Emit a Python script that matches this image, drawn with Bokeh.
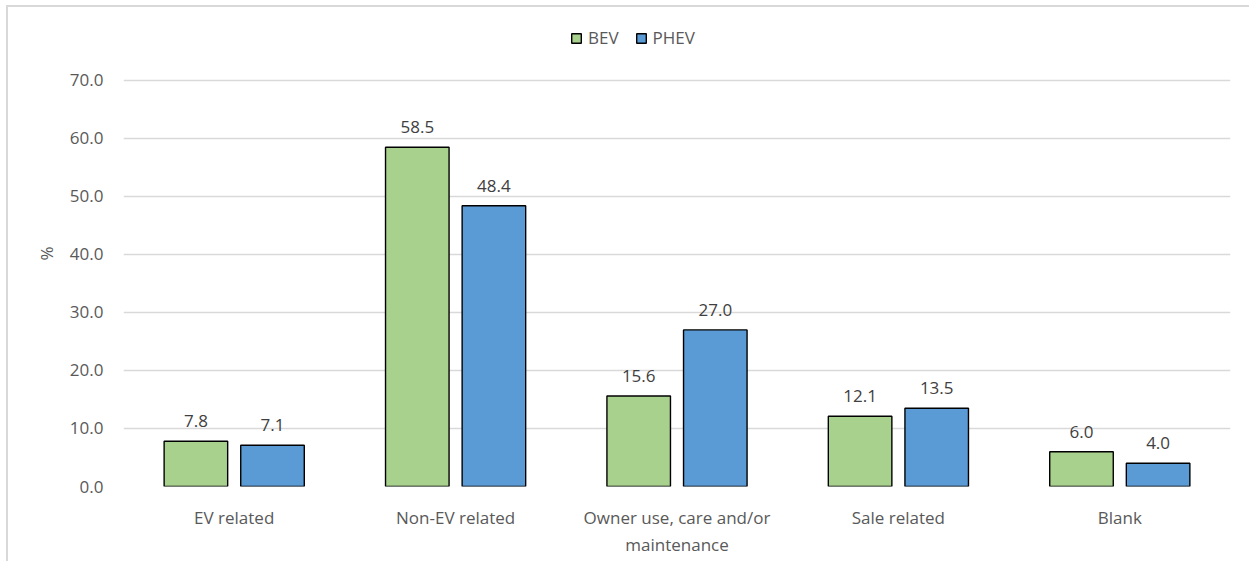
from bokeh.plotting import figure
from bokeh.models import (FactorRange, Range1d, ColumnDataSource, Legend, LegendItem,
                          FixedTicker, CustomJSTickFormatter)
from bokeh.transform import dodge
from bokeh.core.properties import value
from bokeh.embed import file_html
from bokeh.resources import INLINE

# Reasons given, share of respondents (%) by vehicle type
categories = ["EV related", "Non-EV related", "Owner use, care and/or\nmaintenance",
              "Sale related", "Blank"]
bev = [7.8, 58.5, 15.6, 12.1, 6.0]
phev = [7.1, 48.4, 27.0, 13.5, 4.0]
series = ["BEV", "PHEV"]
y_ticks = [0, 10, 20, 30, 40, 50, 60, 70]

FONT = "Open Sans"
FS = "17px"
GREEN = "#A9D18E"
BLUE = "#5B9BD5"
GRID = "#D9D9D9"
TICK_TEXT = "#595959"

src = ColumnDataSource(dict(
    cat=categories,
    bev=bev,
    phev=phev,
    bev_label=[f"{v:.1f}" for v in bev],
    phev_label=[f"{v:.1f}" for v in phev],
))

# headroom above 70 leaves space for the legend inside the plotting area
p = figure(frame_width=1107, frame_height=466, x_range=FactorRange(*categories),
           y_range=Range1d(0, 80.34), output_backend="svg", toolbar_location=None,
           min_border_left=115, min_border_right=19, min_border_top=13,
           min_border_bottom=75)
# light frame around the chart area (top and left edges)
p.styles = {"margin-left": "6px", "margin-top": "5px",
            "border-left": f"2px solid {GRID}", "border-top": f"2px solid {GRID}"}
p.outline_line_color = None
p.background_fill_color = "white"
p.border_fill_color = "white"

off = 0.173
bw = 0.287
r_bev = p.vbar(x=dodge("cat", -off, range=p.x_range), top="bev", width=bw, source=src,
               fill_color=GREEN, line_color="black", line_width=1.4)
r_phev = p.vbar(x=dodge("cat", off, range=p.x_range), top="phev", width=bw, source=src,
                fill_color=BLUE, line_color="black", line_width=1.4)

for col, dx in (("bev", -off), ("phev", off)):
    p.text(x=dodge("cat", dx, range=p.x_range), y=col, text=f"{col}_label", source=src,
           text_align="center", text_baseline="alphabetic", y_offset=-20,
           text_font=value(FONT), text_font_size=FS, text_color="#404040")

# axes
p.yaxis.ticker = FixedTicker(ticks=y_ticks)
p.yaxis.formatter = CustomJSTickFormatter(code="return tick.toFixed(1);")
for ax in (p.xaxis, p.yaxis):
    ax.axis_line_color = None
    ax.major_tick_line_color = None
    ax.minor_tick_line_color = None
    ax.major_label_text_font = FONT
    ax.major_label_text_font_size = FS
    ax.major_label_text_color = TICK_TEXT
p.yaxis.major_label_standoff = 14
p.yaxis.axis_label = "%"
p.yaxis.axis_label_text_font = FONT
p.yaxis.axis_label_text_font_size = FS
p.yaxis.axis_label_text_font_style = "normal"
p.yaxis.axis_label_text_color = TICK_TEXT
p.yaxis.axis_label_standoff = 9
p.xaxis.major_label_standoff = 13

p.xgrid.grid_line_color = None
p.ygrid.grid_line_color = GRID
p.ygrid.grid_line_width = 1.3
p.ygrid.ticker = FixedTicker(ticks=y_ticks)

legend = Legend(items=[LegendItem(label=series[0], renderers=[r_bev]),
                       LegendItem(label=series[1], renderers=[r_phev])],
                orientation="horizontal", location=(447, 437),
                label_text_font=FONT, label_text_font_size=FS,
                label_text_color=TICK_TEXT, glyph_width=12, glyph_height=12,
                label_standoff=6, spacing=16, padding=2, margin=0,
                border_line_color=None, background_fill_alpha=0)
p.add_layout(legend, "center")

open("out.html", "w").write(file_html(p, INLINE))
